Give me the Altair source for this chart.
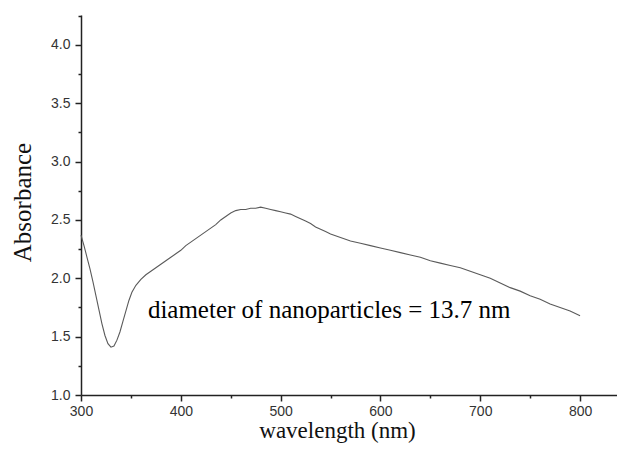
import altair as alt
import pandas as pd

# --- data ---
wavelength = [300, 303, 306, 309, 312, 315, 318, 321, 324, 327, 330, 333, 336, 339, 342, 345,
              348, 351, 355, 360, 365, 370, 375, 380, 385, 390, 395, 400, 405, 410, 415, 420,
              425, 430, 435, 440, 445, 450, 455, 460, 465, 470, 475, 480, 485, 490, 495, 500,
              505, 510, 515, 520, 525, 530, 535, 540, 545, 550, 560, 570, 580, 590, 600, 610,
              620, 630, 640, 650, 660, 670, 680, 690, 700, 710, 720, 730, 740, 750, 760, 770,
              780, 790, 800]
absorbance = [2.37, 2.28, 2.18, 2.08, 1.97, 1.85, 1.73, 1.61, 1.51, 1.44, 1.41, 1.42, 1.47, 1.54, 1.63, 1.72,
              1.81, 1.88, 1.94, 1.99, 2.03, 2.06, 2.09, 2.12, 2.15, 2.18, 2.21, 2.24, 2.28, 2.31, 2.34, 2.37,
              2.40, 2.43, 2.46, 2.50, 2.53, 2.56, 2.58, 2.59, 2.59, 2.60, 2.60, 2.61, 2.60, 2.59, 2.58, 2.57,
              2.56, 2.55, 2.53, 2.51, 2.49, 2.47, 2.44, 2.42, 2.40, 2.38, 2.35, 2.32, 2.30, 2.28, 2.26, 2.24,
              2.22, 2.20, 2.18, 2.15, 2.13, 2.11, 2.09, 2.06, 2.03, 2.00, 1.96, 1.92, 1.89, 1.85, 1.82, 1.78,
              1.75, 1.72, 1.68]

x_major = [300, 400, 500, 600, 700, 800]
x_minor = [350, 450, 550, 650, 750]
y_major = [1.0, 1.5, 2.0, 2.5, 3.0, 3.5, 4.0]
y_minor = [1.25, 1.75, 2.25, 2.75, 3.25, 3.75, 4.25]

x_domain = [300, 837]
y_domain = [1.0, 4.256]

ann_x = [367]
ann_y = [1.66]
ann_text = ["diameter of nanoparticles = 13.7 nm"]

x_title = "wavelength (nm)"
y_title = "Absorbance"

df = pd.DataFrame({"wavelength": wavelength, "absorbance": absorbance})
ann = pd.DataFrame({"x": ann_x, "y": ann_y, "t": ann_text})

AX = "#222222"
xs = alt.Scale(domain=x_domain, nice=False, zero=False)
ys = alt.Scale(domain=y_domain, nice=False, zero=False)

major = alt.Chart(df).mark_line(color="#5a5a5a", strokeWidth=1.1).encode(
    x=alt.X("wavelength:Q", scale=xs,
            axis=alt.Axis(values=x_major, format="d", orient="bottom", grid=False,
                          tickSize=6, tickWidth=1.5, tickColor=AX,
                          domainWidth=1.5, domainColor=AX,
                          labelFont="Liberation Sans", labelFontSize=14, labelColor="#333333",
                          labelPadding=3, labelFlush=False, labelOverlap=False,
                          title=x_title, titleFont="Liberation Serif", titleFontSize=23,
                          titleFontWeight="normal", titleColor="#111111",
                          titleX=256, titleY=42, titleAlign="center",
                          titleBaseline="alphabetic")),
    y=alt.Y("absorbance:Q", scale=ys,
            axis=alt.Axis(values=y_major, format=".1f", orient="left", grid=False,
                          tickSize=6, tickWidth=1.5, tickColor=AX,
                          domainWidth=1.5, domainColor=AX,
                          labelFont="Liberation Sans", labelFontSize=14, labelColor="#333333",
                          labelPadding=5, labelFlush=False, labelOverlap=False,
                          title=y_title, titleFont="Liberation Serif", titleFontSize=25,
                          titleFontWeight="normal", titleColor="#111111",
                          titleX=-59, titleY=187, titleAngle=-90, titleAlign="center",
                          titleBaseline="middle")),
)

minor = alt.Chart(df).mark_line(strokeOpacity=0).encode(
    x=alt.X("wavelength:Q", scale=xs,
            axis=alt.Axis(values=x_minor, orient="bottom", labels=False, domain=False,
                          grid=False, tickSize=3, tickWidth=1.5, tickColor=AX, title=None)),
    y=alt.Y("absorbance:Q", scale=ys,
            axis=alt.Axis(values=y_minor, orient="left", labels=False, domain=False,
                          grid=False, tickSize=3, tickWidth=1.5, tickColor=AX, title=None)),
)

text = alt.Chart(ann).mark_text(font="Liberation Serif", fontSize=25, color="#000000",
                                align="left", baseline="alphabetic").encode(
    x=alt.X("x:Q", scale=xs, axis=None),
    y=alt.Y("y:Q", scale=ys, axis=None),
    text="t:N",
)

chart = alt.layer(major, minor, text).resolve_scale(
    x="independent", y="independent"
).resolve_axis(
    x="independent", y="independent"
).properties(
    width=536, height=380,
    padding={"left": 73, "top": 7, "right": 0, "bottom": 48},
    autosize=alt.AutoSizeParams(type="none"),
    background="white",
).configure_view(stroke=None)

chart.save("out.html", embed_options={"renderer": "svg", "actions": False})
